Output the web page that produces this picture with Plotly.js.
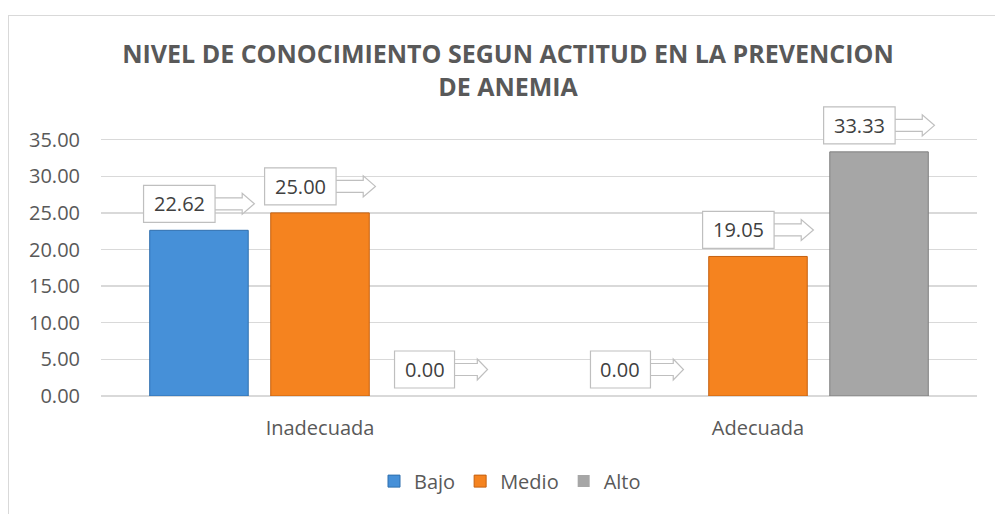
<!DOCTYPE html>
<html>
<head>
<meta charset="utf-8">
<script src="https://cdn.plot.ly/plotly-3.0.1.min.js"></script>
<style>
  html, body { margin: 0; padding: 0; background: #fff; }
  #wrap { position: relative; width: 995px; height: 514px; overflow: hidden; }
  #chart { position: absolute; left: 0; top: 0; width: 995px; height: 514px; }
  #frame { position: absolute; left: 8px; top: 15px; width: 995px; height: 520px;
           border: 1px solid #d9d9d9; pointer-events: none; box-sizing: border-box; }
</style>
</head>
<body>
<div id="wrap">
  <div id="chart"></div>
  <div id="frame"></div>
</div>
<script>
// ---- data ----
const categories = ['Inadecuada', 'Adecuada'];
const seriesNames = ['Bajo', 'Medio', 'Alto'];
const bajo  = [22.62, 0.00];
const medio = [25.00, 19.05];
const alto  = [0.00, 33.33];
const yTicks = [0, 5, 10, 15, 20, 25, 30, 35];

// ---- styles ----
const seriesValues = [bajo, medio, alto];
const fills = ['#4690d8', '#f5831f', '#a6a6a6'];
const edges = ['#2f6fae', '#c5600f', '#7f7f7f'];
const FONT = '"Open Sans", "DejaVu Sans", sans-serif';
const bargap = 0.171;
const bargroupgap = 0.186;

const traces = seriesNames.map((name, i) => ({
  type: 'bar',
  name: name,
  x: categories,
  y: seriesValues[i],
  marker: {
    color: fills[i],
    line: { color: edges[i], width: seriesValues[i].map(v => (v > 0 ? 1 : 0)) }
  },
  hoverinfo: 'x+y+name'
}));

// callout labels (box + hollow arrow) anchored on each bar via axis scales
const shapes = [];
const annotations = [];
const pitch = (1 - bargap) / seriesNames.length;
seriesValues.forEach((vals, i) => {
  vals.forEach((v, j) => {
    const xpos = j + (i - (seriesNames.length - 1) / 2) * pitch;
    const txt = v.toFixed(2);
    const bw = 11.5 * txt.length + 14;
    const aL = 0.55 * bw;
    const W = bw + aL;
    const bx0 = -W / 2, bx1 = -W / 2 + bw;
    const gap = 8, bh = 37, ym = gap + bh / 2;
    const sx = bx1 + 0.69 * aL, tx = bx1 + aL;
    shapes.push({
      type: 'path', xref: 'x', yref: 'y', xsizemode: 'pixel', ysizemode: 'pixel',
      xanchor: xpos, yanchor: v, layer: 'above',
      path: `M${bx1 - 1},${ym + 6} L${sx},${ym + 6} L${sx},${ym + 10.5} L${tx},${ym} L${sx},${ym - 10.5} L${sx},${ym - 6} L${bx1 - 1},${ym - 6}`,
      fillcolor: '#ffffff', line: { color: '#bfbfbf', width: 1.2 }
    });
    shapes.push({
      type: 'rect', xref: 'x', yref: 'y', xsizemode: 'pixel', ysizemode: 'pixel',
      xanchor: xpos, yanchor: v, layer: 'above',
      x0: bx0, x1: bx1, y0: gap, y1: gap + bh,
      fillcolor: '#ffffff', line: { color: '#bfbfbf', width: 1.2 }
    });
    annotations.push({
      x: xpos, y: v, xref: 'x', yref: 'y',
      xanchor: 'center', yanchor: 'middle',
      xshift: bx0 + bw / 2, yshift: ym,
      text: txt, showarrow: false,
      font: { family: FONT, size: 20, color: '#404040' }
    });
  });
});

const layout = {
  width: 995, height: 514,
  paper_bgcolor: 'rgba(0,0,0,0)', plot_bgcolor: 'rgba(0,0,0,0)',
  margin: { l: 101, r: 18, t: 103.4, b: 118 },
  font: { family: FONT, size: 20, color: '#595959' },
  title: {
    text: '<b>NIVEL DE CONOCIMIENTO SEGUN ACTITUD EN LA PREVENCION<br>DE ANEMIA</b>',
    x: 508 / 995, xref: 'container', xanchor: 'center',
    y: 1 - 63 / 514, yref: 'container', yanchor: 'top',
    font: { family: FONT, size: 25, color: '#595959' }
  },
  barmode: 'group', bargap: bargap, bargroupgap: bargroupgap,
  xaxis: {
    type: 'category', showgrid: false, showline: false, ticks: '',
    tickfont: { family: FONT, size: 20, color: '#595959' },
    ticklabelstandoff: 18, fixedrange: true
  },
  yaxis: {
    range: [0, 40], tickvals: yTicks, tickformat: '.2f',
    showgrid: true, gridcolor: '#d9d9d9', gridwidth: 1.3,
    zeroline: true, zerolinecolor: '#d9d9d9', zerolinewidth: 1.3,
    showline: false, ticks: '',
    tickfont: { family: FONT, size: 20, color: '#595959' },
    ticklabelstandoff: 20, fixedrange: true
  },
  legend: {
    orientation: 'h', x: (510 - 101) / 876, xanchor: 'center',
    y: (396 - 481) / 292.6, yanchor: 'middle',
    font: { family: FONT, size: 20, color: '#595959' },
    itemwidth: 30, traceorder: 'normal', bgcolor: 'rgba(0,0,0,0)'
  },
  shapes: shapes,
  annotations: annotations,
  showlegend: true
};

Plotly.newPlot('chart', traces, layout, { displayModeBar: false, staticPlot: true });
</script>
</body>
</html>
